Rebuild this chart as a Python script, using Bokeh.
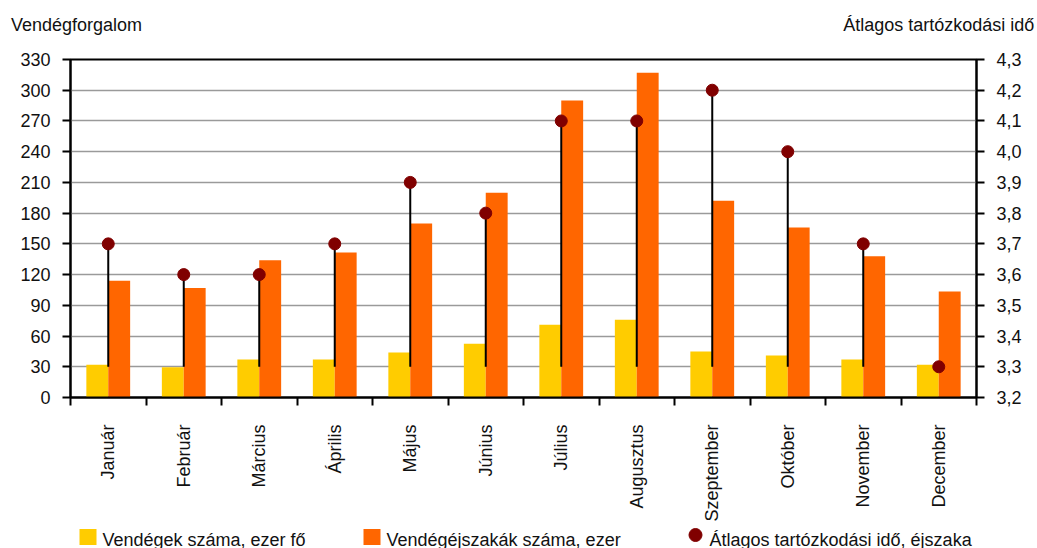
import math
from bokeh.plotting import figure
from bokeh.layouts import column
from bokeh.models import (ColumnDataSource, Range1d, LinearAxis, FixedTicker,
                          CustomJSTickFormatter)
from bokeh.core.properties import value
from bokeh.transform import dodge
from bokeh.embed import file_html
from bokeh.resources import INLINE

# ---- data ----
months = ["Január", "Február", "Március", "Április", "Május", "Június",
          "Július", "Augusztus", "Szeptember", "Október", "November", "December"]
guests = [32, 29.5, 37, 37, 44, 52.5, 71, 76, 45, 41, 37, 32]          # ezer fő
nights = [114, 107, 134, 141.5, 170, 200, 290, 317, 192, 166, 138, 103.5]  # ezer
avg_stay = [3.7, 3.6, 3.6, 3.7, 3.9, 3.8, 4.1, 4.1, 4.2, 4.0, 3.7, 3.3]  # éjszaka
left_ticks = [0, 30, 60, 90, 120, 150, 180, 210, 240, 270, 300, 330]
right_ticks = [3.2, 3.3, 3.4, 3.5, 3.6, 3.7, 3.8, 3.9, 4.0, 4.1, 4.2, 4.3]
stay_base = 3.3
left_title = "Vendégforgalom"
right_title = "Átlagos tartózkodási idő"
series_names = ["Vendégek száma, ezer fő", "Vendégéjszakák száma, ezer",
                "Átlagos tartózkodási idő, éjszaka"]
series_colors = ["#FFCC00", "#FF6600", "#800000"]

FONT = "Liberation Sans"
TXT = "#111111"

n = len(months)
centers = [i + 0.5 for i in range(n)]
src = ColumnDataSource(dict(x=centers, month=months, guests=guests, nights=nights,
                            stay=avg_stay, base=[stay_base] * n))

p = figure(frame_width=906, frame_height=338, title=None, x_range=Range1d(0, n),
           y_range=Range1d(left_ticks[0], left_ticks[-1]),
           output_backend="svg", toolbar_location=None,
           min_border_left=70, min_border_right=61, min_border_top=59,
           min_border_bottom=121)
p.extra_y_ranges = {"stay": Range1d(right_ticks[0], right_ticks[-1])}

p.background_fill_color = "white"
p.border_fill_color = "white"
p.outline_line_color = "black"
p.outline_line_width = 2
p.xgrid.visible = False
p.ygrid.ticker = FixedTicker(ticks=left_ticks[1:-1])
p.ygrid.grid_line_color = "#9a9a9a"
p.ygrid.grid_line_width = 1.3

p.vbar(x=dodge("x", -0.145, range=p.x_range), top="guests", width=0.29,
       source=src, fill_color=series_colors[0], line_color=None)
p.vbar(x=dodge("x", 0.145, range=p.x_range), top="nights", width=0.29,
       source=src, fill_color=series_colors[1], line_color=None)
p.segment(x0="x", y0="stay", x1="x", y1="base", source=src, y_range_name="stay",
          line_color="black", line_width=2)
p.scatter("x", "stay", source=src, y_range_name="stay", size=12,
          fill_color=series_colors[2], line_color=series_colors[2])


def style_axis(ax):
    ax.axis_line_color = "black"
    ax.axis_line_width = 2
    ax.major_tick_line_color = "black"
    ax.major_tick_line_width = 2
    ax.major_tick_in = 0
    ax.major_tick_out = 8
    ax.minor_tick_line_color = None
    ax.major_label_text_font = FONT
    ax.major_label_text_font_size = "18px"
    ax.major_label_text_color = TXT
    ax.major_label_standoff = 12


# left axis
ly = p.yaxis[0]
ly.ticker = FixedTicker(ticks=left_ticks)
style_axis(ly)

# right axis
ry = LinearAxis(y_range_name="stay", ticker=FixedTicker(ticks=right_ticks),
                formatter=CustomJSTickFormatter(code="return tick.toFixed(1).replace('.', ',')"))
style_axis(ry)
p.add_layout(ry, "right")

# bottom axis: month names at centres, tick marks at category boundaries
bx = p.xaxis[0]
bx.ticker = FixedTicker(ticks=centers, minor_ticks=list(range(n + 1)))
bx.formatter = CustomJSTickFormatter(args=dict(months=months),
                                     code="return months[Math.floor(tick)] || ''")
style_axis(bx)
bx.major_tick_out = 0
bx.major_tick_line_color = None
bx.minor_tick_line_color = "black"
bx.minor_tick_line_width = 2
bx.minor_tick_in = 0
bx.minor_tick_out = 8
bx.major_label_orientation = math.pi / 2
bx.major_label_standoff = 19

# axis titles on one row above the frame (an unlined axis carrying two labels)
tx = LinearAxis(ticker=FixedTicker(ticks=[0.08, 11.5]),
                formatter=CustomJSTickFormatter(args=dict(a=left_title, b=right_title),
                                                code="return tick < 6 ? a : b"))
tx.axis_line_color = None
tx.major_tick_line_color = None
tx.minor_tick_line_color = None
tx.major_tick_in = 0
tx.major_tick_out = 0
tx.major_label_standoff = 25
tx.major_label_text_font = FONT
tx.major_label_text_font_size = "18px"
tx.major_label_text_color = TXT
p.add_layout(tx, "above")

# ---- legend strip (separate small svg figure under the chart) ----
# the column aligns this strip's frame with the chart frame (page x 70..976)
LG_H = 24
lg = figure(width=1037, height=LG_H, title=None, x_range=Range1d(70, 976),
            y_range=Range1d(0, LG_H), output_backend="svg", toolbar_location=None,
            min_border=0, x_axis_type=None, y_axis_type=None)
lg.outline_line_color = None
lg.grid.visible = False
lg.border_fill_color = "white"
box_src = ColumnDataSource(dict(mark_x=[87.5, 371.5], color=series_colors[:2]))
txt_src = ColumnDataSource(dict(text_x=[102, 386, 709], label=series_names))
lg.rect(x="mark_x", y=11.5, width=17, height=16, width_units="screen",
        height_units="screen", fill_color="color", line_color=None, source=box_src)
lg.scatter(x=[695], y=[13.5], size=13, fill_color=series_colors[2],
           line_color=series_colors[2])
lg.text(x="text_x", y=9, text="label", source=txt_src,
        text_font=value(FONT), text_font_size="18px", text_color=TXT,
        text_baseline="alphabetic", text_align="left")

open("out.html", "w").write(file_html(column(p, lg, spacing=0), INLINE))
